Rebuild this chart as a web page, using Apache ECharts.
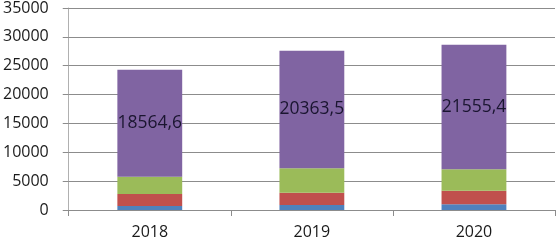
<!DOCTYPE html>
<html lang="en">
<head>
    <meta charset="UTF-8">
    <title>Stacked bars</title>
    <script src="https://cdn.jsdelivr.net/npm/echarts@6/dist/echarts.min.js"></script>
    <style>
        html, body { margin: 0; padding: 0; background: #fff; }
        #main { width: 557px; height: 241px; }
    </style>
</head>
<body>
<div id="main"></div>
<script>
    var years = ['2018', '2019', '2020'];
    var blueVals = [690, 860, 980];
    var redVals = [2070, 2130, 2350];
    var greenVals = [2985, 4250, 3740];
    var purpleVals = [18564.6, 20363.5, 21555.4];

    var font = '"Open Sans", sans-serif';
    var gridColor = '#8c8c8c';

    function bar(name, data, color, showLabel) {
        return {
            name: name,
            type: 'bar',
            stack: 'all',
            barWidth: '40%',
            data: data,
            itemStyle: {color: color},
            label: {
                show: showLabel,
                position: 'inside',
                color: '#1a1530',
                fontFamily: font,
                fontSize: 17.5,
                formatter: function (p) {
                    return String(p.value).replace('.', ',');
                }
            }
        };
    }

    var myChart = echarts.init(document.getElementById('main'));
    var option = {
        animation: false,
        grid: {left: 66, right: 2, top: 7, bottom: 31},
        xAxis: {
            type: 'category',
            data: years,
            axisLine: {lineStyle: {color: gridColor}},
            axisTick: {show: true, length: 6, lineStyle: {color: gridColor}},
            axisLabel: {color: '#1a1a1a', fontFamily: font, fontSize: 16, margin: 14}
        },
        yAxis: {
            type: 'value',
            min: 0,
            max: 35000,
            interval: 5000,
            axisLine: {show: true, lineStyle: {color: '#b0b0b0'}},
            axisTick: {show: true, length: 6, lineStyle: {color: gridColor}},
            splitLine: {lineStyle: {color: gridColor}},
            axisLabel: {
                color: '#1a1a1a', fontFamily: font, fontSize: 16, margin: 20,
                formatter: function (v) { return String(v); }
            }
        },
        series: [
            bar('s1', blueVals, '#4f81bd', false),
            bar('s2', redVals, '#c0504d', false),
            bar('s3', greenVals, '#9bbb59', false),
            bar('s4', purpleVals, '#8064a2', true)
        ]
    };
    myChart.setOption(option);
</script>
</body>
</html>
